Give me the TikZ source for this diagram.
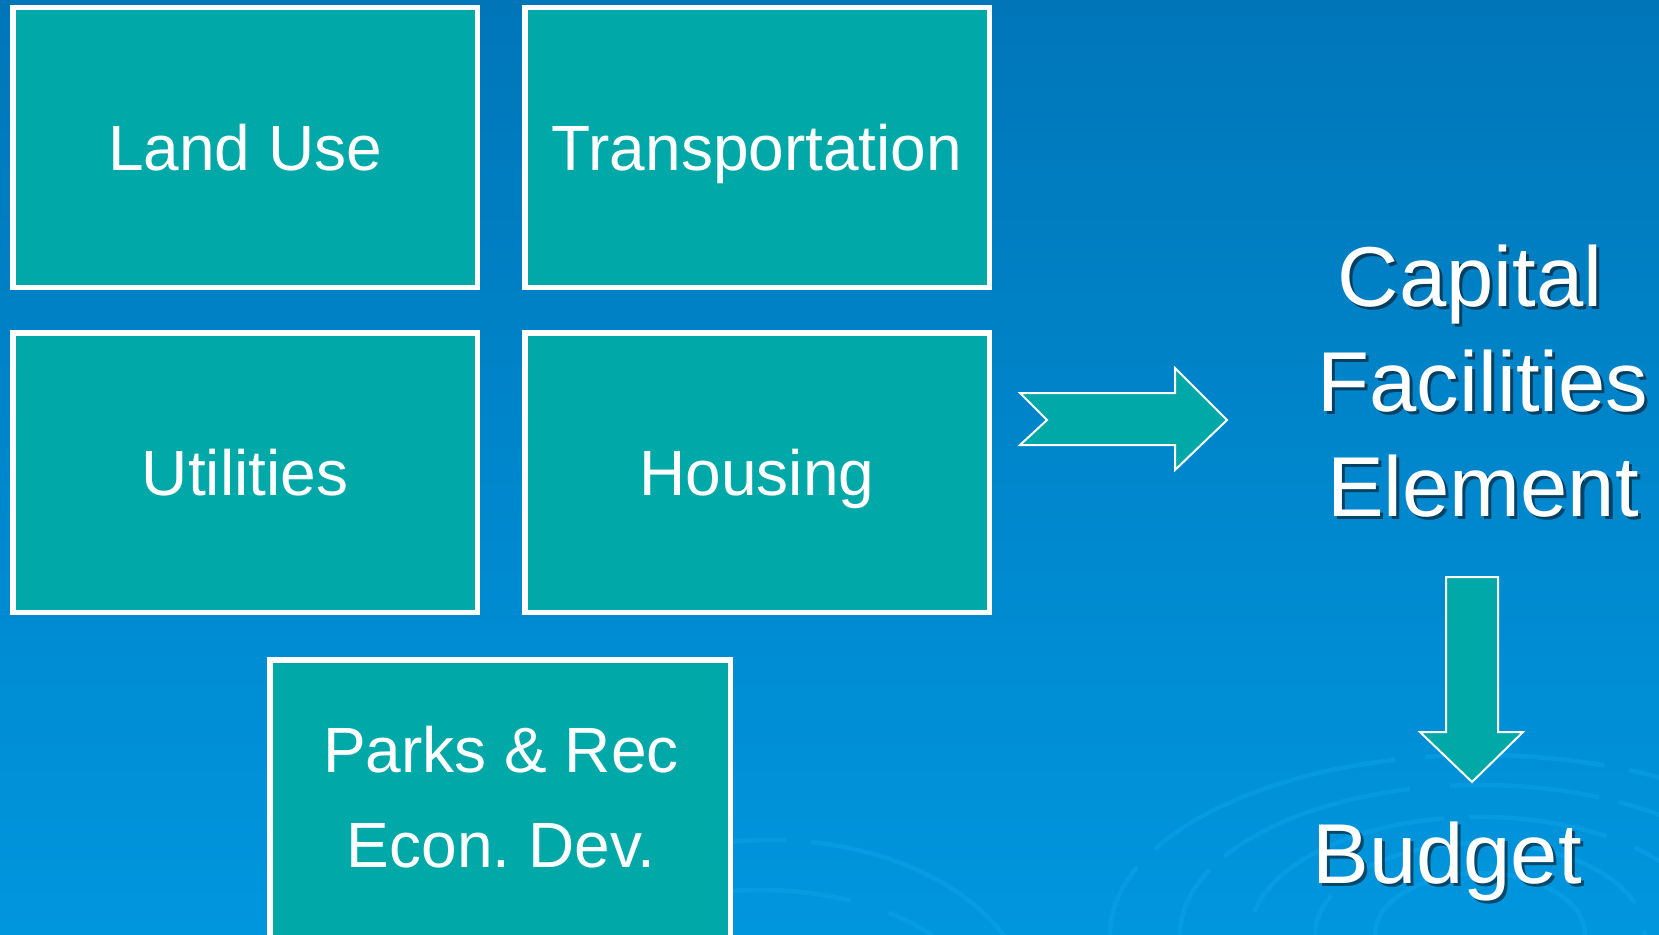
\documentclass[tikz,border=0pt]{standalone}
\usepackage{fontspec}
\setmainfont{Liberation Sans}
\frenchspacing
\definecolor{boxteal}{RGB}{0,168,168}
\definecolor{bgtop}{RGB}{0,118,185}
\definecolor{bgbot}{RGB}{0,150,222}
\definecolor{ripple}{RGB}{20,170,240}
\begin{document}
\begin{tikzpicture}[x=1pt,y=-1pt,
  box/.style={draw=white, line width=5.5pt, fill=boxteal, minimum width=464.5pt,
    minimum height=279.5pt, inner sep=0pt, outer sep=0pt, text=white,
    font=\fontsize{64}{95}\selectfont, text height=46pt, text depth=0pt},
  boxtext/.style={text=white, font=\fontsize{64}{95}\selectfont, align=center, inner sep=0pt},
  bigtext/.style={text=white, font=\fontsize{85}{105}\selectfont, align=center, inner sep=0pt},
  shadowtext/.style={bigtext, text=black, opacity=0.5},
  blockarrow/.style={draw=white, line width=2pt, fill=boxteal, line join=miter},
  ripplestyle/.style={draw=ripple, line width=4.5pt, opacity=0.35}]
\useasboundingbox (0,0) rectangle (1659,934);
% background
\fill[top color=bgtop, bottom color=bgbot] (0,0) rectangle (1659,934);
% ripples
\begin{scope}
\clip (0,0) rectangle (1659,934);
\draw[ripplestyle, dash pattern=on 260pt off 30pt on 180pt off 25pt] (1480,935) ellipse [x radius=370, y radius=180];
\draw[ripplestyle, dash pattern=on 200pt off 40pt on 150pt off 20pt] (1480,935) ellipse [x radius=300, y radius=150];
\draw[ripplestyle, dash pattern=on 140pt off 30pt on 220pt off 25pt] (1480,935) ellipse [x radius=230, y radius=118];
\draw[ripplestyle, dash pattern=on 120pt off 30pt on 160pt off 25pt] (1480,935) ellipse [x radius=165, y radius=92];
\draw[ripplestyle] (1480,935) ellipse [x radius=105, y radius=62];
\draw[ripplestyle, dash pattern=on 330pt off 25pt] (770,1010) ellipse [x radius=260, y radius=170];
\draw[ripplestyle, dash pattern=on 150pt off 40pt] (760,1010) ellipse [x radius=220, y radius=120];
\end{scope}
% boxes
\node[box] (landuse) at (245,147.5) {Land Use};
\node[box] (transport) at (757,147.5) {Transportation};
\node[box] (utilities) at (245,472.5) {Utilities};
\node[box] (housing) at (757,472.5) {Housing};
\draw[draw=white, line width=5.5pt, fill=boxteal] (269.75,659.75) rectangle (730.25,980);
\node[boxtext] (parks) at (501,797.5) {Parks \& Rec\\Econ. Dev.};
% block arrows
\draw[blockarrow] (1020,393) -- (1175,393) -- (1175,368) -- (1227,420) -- (1175,470)
  -- (1175,445) -- (1020,445) -- (1047,420) -- cycle;
\draw[blockarrow] (1446,577) -- (1498,577) -- (1498,732) -- (1523,732) -- (1472,782)
  -- (1420,732) -- (1446,732) -- cycle;
% right-hand texts
\node[shadowtext] (cfeS) at (1486,384) {Capital\hspace*{26pt}\\Facilities\\Element};
\node[bigtext] (cfe) at (1483,381) {Capital\hspace*{26pt}\\Facilities\\Element};
\node[shadowtext, anchor=base] (budgetS) at (1450,886) {Budget};
\node[bigtext, anchor=base] (budget) at (1447,883) {Budget};
\end{tikzpicture}
\end{document}
